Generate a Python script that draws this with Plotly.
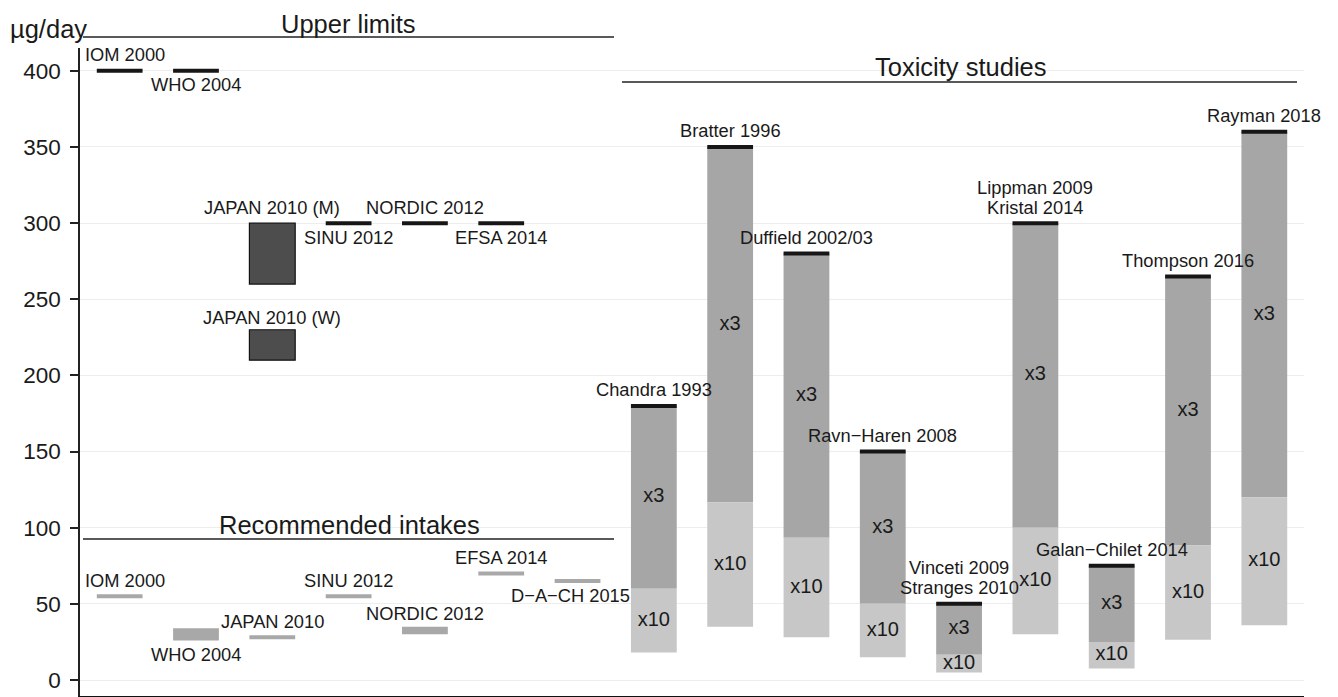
import plotly.graph_objects as go

# ---------------- Upper limits (µg/day) ----------------
ul_names = ["IOM 2000", "WHO 2004", "SINU 2012", "NORDIC 2012", "EFSA 2014"]
ul_pos = [1, 2, 4, 5, 6]
ul_values = [400, 400, 300, 300, 300]
ul_side = ["above", "below", "below", "above", "below"]

ul_range_names = ["JAPAN 2010 (M)", "JAPAN 2010 (W)"]
ul_range_pos = [3, 3]
ul_range_low = [260, 210]
ul_range_high = [300, 230]

# ---------------- Recommended intakes ----------------
ri_names = ["IOM 2000", "JAPAN 2010", "SINU 2012", "EFSA 2014", "D\u2212A\u2212CH 2015"]
ri_pos = [1, 3, 4, 6, 7]
ri_values = [55, 28, 55, 70, 65]
ri_side = ["above", "above", "above", "above", "below"]

ri_range_names = ["WHO 2004", "NORDIC 2012"]
ri_range_pos = [2, 5]
ri_range_low = [26, 30]
ri_range_high = [34, 35]
ri_range_side = ["below", "above"]

# ---------------- Toxicity studies ----------------
tox_names = ["Chandra 1993", "Bratter 1996", "Duffield 2002/03", "Ravn\u2212Haren 2008",
             "Vinceti 2009\nStranges 2010", "Lippman 2009\nKristal 2014",
             "Galan\u2212Chilet 2014", "Thompson 2016", "Rayman 2018"]
tox_pos = [8, 9, 10, 11, 12, 13, 14, 15, 16]
tox_values = [180, 350, 280, 150, 50, 300, 75, 265, 360]
safety_factors = [3, 10]

y_ticks = [0, 50, 100, 150, 200, 250, 300, 350, 400]

# ---------------- style ----------------
FONT = "Liberation Sans, Arial, Helvetica, sans-serif"
INK = "#1a1a1a"
UL_COLOR = "#161616"
BOX_DARK = "#4d4d4d"
RI_COLOR = "#a8a8a8"
X3_COLOR = "#a5a6a5"
X10_COLOR = "#c6c7c6"
HALF = 0.3          # half width of every mark, in category units
LABEL_FS = 18.3
HEADER_FS = 25.5
LINE_GAP = 20       # spacing of stacked label lines, px
# small pixel nudges (dx, dy) for individual labels
label_nudge = {"IOM 2000": (5, 0), "D\u2212A\u2212CH 2015": (-7, 0),
               "JAPAN 2010 (W)": (0, -4), "NORDIC 2012@ri": (0, -3)}

# plot-area geometry in pixels (used for the headers drawn in paper space)
W, H = 1338, 697
ML, MR, MT, MB = 80, 34, 48, 1
PW, PH = W - ML - MR, H - MT - MB


def px(x):
    return (x - ML) / PW


def py(y):
    return (H - MB - y) / PH


def seg_xy(pos, vals):
    xs, ys = [], []
    for p, v in zip(pos, vals):
        xs += [p - HALF, p + HALF, None]
        ys += [v, v, None]
    return xs, ys


annotations = []


def add_label(x, y, text, side, key=None):
    lines = text.split("\n")
    dx, dy = label_nudge.get(key or text, (0, 0))
    for i, line in enumerate(lines):
        if side == "above":
            shift = 16 + LINE_GAP * (len(lines) - 1 - i)
        else:
            shift = -14 - LINE_GAP * i
        annotations.append(dict(
            x=x, y=y, xref="x", yref="y", text=line, showarrow=False,
            xanchor="center", yanchor="middle", yshift=shift + dy, xshift=dx,
            font=dict(size=LABEL_FS, color=INK, family=FONT)))


fig = go.Figure()

# upper limits: single values as thick black strokes
xs, ys = seg_xy(ul_pos, ul_values)
fig.add_trace(go.Scatter(x=xs, y=ys, mode="lines",
                         line=dict(color=UL_COLOR, width=4), hoverinfo="skip"))
for p, v, n, s in zip(ul_pos, ul_values, ul_names, ul_side):
    add_label(p, v, n, s)

# upper limits given as ranges
fig.add_trace(go.Bar(
    x=ul_range_pos,
    y=[h - l for l, h in zip(ul_range_low, ul_range_high)],
    base=ul_range_low, width=0.6,
    marker=dict(color=BOX_DARK, line=dict(color="#111111", width=1.2)),
    hoverinfo="skip"))
for p, h, n in zip(ul_range_pos, ul_range_high, ul_range_names):
    add_label(p, h, n, "above")

# recommended intakes: single values
xs, ys = seg_xy(ri_pos, ri_values)
fig.add_trace(go.Scatter(x=xs, y=ys, mode="lines",
                         line=dict(color=RI_COLOR, width=4), hoverinfo="skip"))
for p, v, n, s in zip(ri_pos, ri_values, ri_names, ri_side):
    add_label(p, v, n, s)

# recommended intakes given as ranges
fig.add_trace(go.Bar(
    x=ri_range_pos,
    y=[h - l for l, h in zip(ri_range_low, ri_range_high)],
    base=ri_range_low, width=0.6,
    marker=dict(color=RI_COLOR, line=dict(width=0)),
    hoverinfo="skip"))
for p, l, h, n, s in zip(ri_range_pos, ri_range_low, ri_range_high,
                         ri_range_names, ri_range_side):
    add_label(p, h if s == "above" else l, n, s, key=n + "@ri")

# toxicity studies: value / 3 and value / 10 bands
f_small, f_large = safety_factors
mid = [v / f_small for v in tox_values]
low = [v / f_large for v in tox_values]
fig.add_trace(go.Bar(
    x=tox_pos, y=[v - m for v, m in zip(tox_values, mid)], base=mid, width=0.6,
    marker=dict(color=X3_COLOR, line=dict(width=0)), hoverinfo="skip"))
fig.add_trace(go.Bar(
    x=tox_pos, y=[m - lo for m, lo in zip(mid, low)], base=low, width=0.6,
    marker=dict(color=X10_COLOR, line=dict(width=0)), hoverinfo="skip"))
fig.add_trace(go.Scatter(
    x=tox_pos + tox_pos,
    y=[(m + v) / 2 for m, v in zip(mid, tox_values)] + [(lo + m) / 2 for lo, m in zip(low, mid)],
    mode="text",
    text=[f"x{f_small}"] * len(tox_pos) + [f"x{f_large}"] * len(tox_pos),
    textposition="middle center",
    textfont=dict(size=20, color=INK, family=FONT), hoverinfo="skip"))
xs, ys = seg_xy(tox_pos, tox_values)
fig.add_trace(go.Scatter(x=xs, y=ys, mode="lines",
                         line=dict(color=UL_COLOR, width=4), hoverinfo="skip"))
for p, v, n in zip(tox_pos, tox_values, tox_names):
    add_label(p, v, n, "above")

# section headers
headers = [
    ("\u00b5g/day", 8, 28.5, "left"),
    ("Upper limits", 348, 24, "center"),
    ("Toxicity studies", 960, 67.5, "center"),
    ("Recommended intakes", 349, 525, "center"),
]
for text, hx, hy, anchor in headers:
    annotations.append(dict(
        x=px(hx), y=py(hy), xref="paper", yref="paper", text=text,
        showarrow=False, xanchor=anchor, yanchor="middle",
        font=dict(size=HEADER_FS, color=INK, family=FONT)))

underlines = [(83, 614, 37), (83, 614, 539), (622, 1297, 82)]
shapes = [dict(type="line", xref="paper", yref="paper",
               x0=px(a), x1=px(b), y0=py(y), y1=py(y),
               line=dict(color="#222222", width=1.3))
          for a, b, y in underlines]

fig.update_layout(
    width=W, height=H,
    margin=dict(l=ML, r=MR, t=MT, b=MB, pad=0),
    paper_bgcolor="white", plot_bgcolor="white",
    barmode="overlay", showlegend=False,
    font=dict(family=FONT, color=INK),
    annotations=annotations, shapes=shapes,
    xaxis=dict(range=[0.48, 16.52], showgrid=False, zeroline=False,
               showticklabels=False, ticks="", showline=True,
               linecolor="#111111", linewidth=2),
    yaxis=dict(range=[-10.5, 415], tickvals=y_ticks,
               ticktext=[str(t) for t in y_ticks],
               showgrid=True, gridcolor="#ededed", gridwidth=1,
               zeroline=False, showline=True, linecolor="#222222", linewidth=1.5,
               ticks="outside", ticklen=8, tickwidth=1.5, tickcolor="#222222",
               ticklabelstandoff=5,
               tickfont=dict(size=22.5, color=INK, family=FONT)),
)

fig.write_html("out.html")
